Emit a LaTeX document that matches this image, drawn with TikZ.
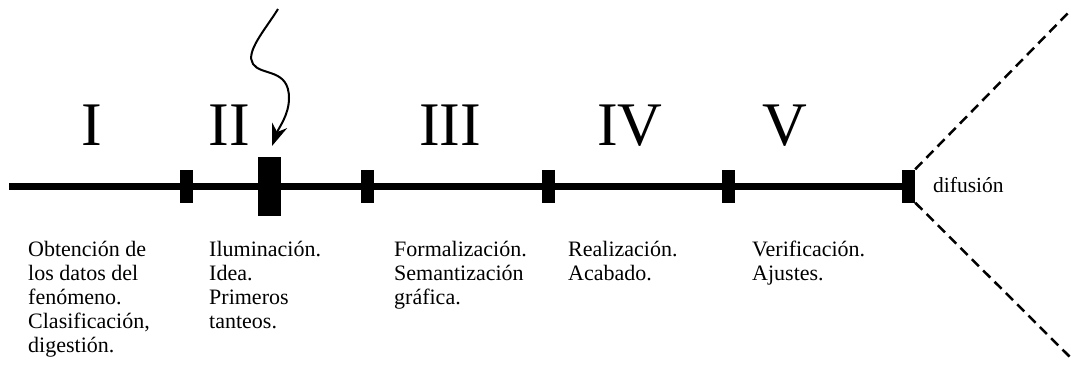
\documentclass[tikz,border=0pt]{standalone}
\usepackage{fontspec}
\setmainfont{Liberation Serif}
\usepackage{tikz}
\usetikzlibrary{arrows.meta,positioning}

\tikzset{
tickmark/.style={rectangle,fill=black,inner sep=0pt,minimum width=13pt,minimum height=33pt},
bigmark/.style={tickmark,minimum width=23pt,minimum height=59pt},
numeral/.style={anchor=base,inner sep=0pt,font=\fontsize{62}{62}\selectfont},
phase/.style={anchor=north west,inner sep=0pt,align=left,font=\fontsize{22}{24}\selectfont}
}

\begin{document}
\begin{tikzpicture}[x=1pt,y=-1pt,>=Stealth]
\useasboundingbox (0,0) rectangle (1071,376);
% eje de fases
\coordinate (start) at (9,186);
\node[tickmark](t1) at (186.5,186){};
\node[bigmark](t2) at (269.5,186){};
\node[tickmark](t3) at (367,186){};
\node[tickmark](t4) at (548,186){};
\node[tickmark](t5) at (728.5,186){};
\node[tickmark](t6) at (908.5,186){};
\draw[line width=7pt](start)--(t6.center);
% difusion
\coordinate (up) at (1071,10);
\coordinate (down) at (1071,358);
\draw[dash pattern=on 10pt off 6pt,line width=2.5pt](t6.north east)--(up);
\draw[dash pattern=on 10pt off 6pt,line width=2.5pt](t6.south east)--(down);
\node[anchor=base west,inner sep=0pt,font=\fontsize{21.5}{24}\selectfont](dif) at (933,192){difusión};
% fases
\node[numeral](nI) at (92,145){I};
\node[numeral](nII) at (229,145){II};
\node[numeral](nIII) at (450,145){III};
\node[numeral](nIV) at (630,145){IV};
\node[numeral](nV) at (785,145){V};
\node[phase](dI) at (28,241){Obtención de\\los datos del\\fenómeno.\\Clasificación,\\digestión.};
\node[phase](dII) at (209,241){Iluminación.\\Idea.\\Primeros\\tanteos.};
\node[phase](dIII) at (394,241){Formalización.\\Semantización\\gráfica.};
\node[phase](dIV) at (568,241){Realización.\\Acabado.};
\node[phase](dV) at (752,241){Verificación.\\Ajustes.};
% la idea
\coordinate (spark) at (278,9);
\coordinate (hit) at (272,146);
\draw[line width=2pt,-{Stealth[length=22pt,width=16pt]}](spark)
.. controls (265,30) and (245,52) .. (253,64)
.. controls (261,76) and (289,68) .. (289,98)
.. controls (289,115) and (279,127) .. (hit);
\end{tikzpicture}
\end{document}
